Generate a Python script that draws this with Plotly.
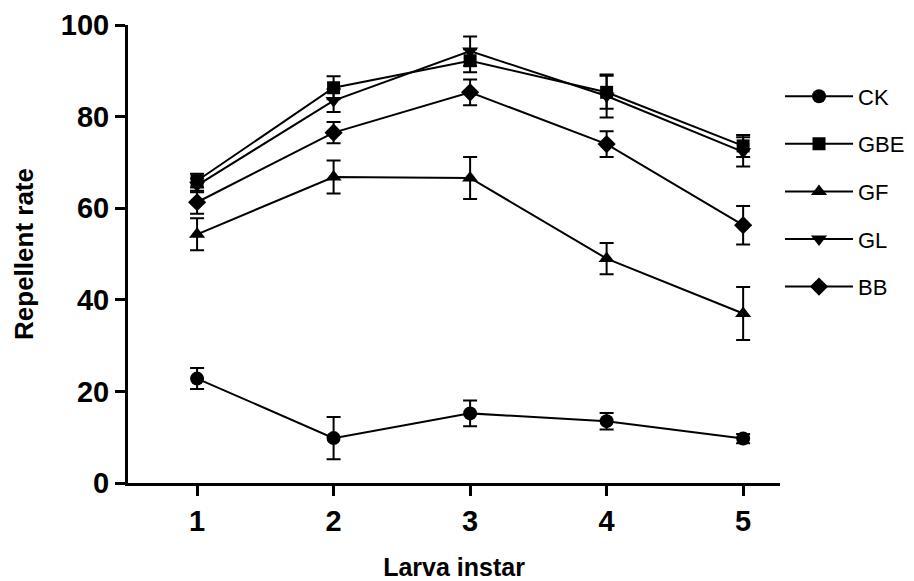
import plotly.graph_objects as go

instar = [1, 2, 3, 4, 5]
series_names = ["CK", "GBE", "GF", "GL", "BB"]
ck = [22.8, 9.8, 15.2, 13.5, 9.7]
ck_err = [2.3, 4.6, 2.8, 1.8, 1.0]
gbe = [66.0, 86.3, 92.2, 85.3, 73.6]
gbe_err = [1.5, 2.5, 2.5, 3.6, 2.4]
gf = [54.3, 66.8, 66.6, 49.0, 37.0]
gf_err = [3.5, 3.6, 4.6, 3.4, 5.8]
gl = [65.0, 83.5, 94.3, 84.5, 72.3]
gl_err = [1.5, 2.5, 3.2, 4.7, 3.2]
bb = [61.3, 76.5, 85.3, 74.0, 56.3]
bb_err = [2.5, 2.3, 2.8, 2.8, 4.2]

values = [ck, gbe, gf, gl, bb]
errors = [ck_err, gbe_err, gf_err, gl_err, bb_err]
symbols = ["circle", "square", "triangle-up", "triangle-down", "diamond"]
sizes = [14, 13, 14, 14, 14]

FONT = "Arial, Liberation Sans, sans-serif"

fig = go.Figure()
for name, v, e, s, sz in zip(series_names, values, errors, symbols, sizes):
    fig.add_trace(go.Scatter(
        x=instar, y=v, name=name, mode="lines+markers",
        legendgroup=name,
        line=dict(color="black", width=2),
        marker=dict(symbol=s, size=sz, color="black"),
        error_y=dict(type="data", array=e, visible=True, color="black",
                     thickness=2, width=7),
    ))

# page body has an 8px margin, so the figure is sized/offset to compensate
fig.update_layout(
    width=906, height=573,
    paper_bgcolor="white", plot_bgcolor="white",
    margin=dict(l=120, r=134, t=17, b=98, autoexpand=False),
    font=dict(family=FONT, color="black"),
    showlegend=True,
    legend=dict(x=1.0, y=0.89, xanchor="left", yanchor="top",
                font=dict(size=22, family=FONT, color="black"),
                tracegroupgap=16, itemwidth=68,
                bgcolor="rgba(0,0,0,0)"),
    xaxis=dict(range=[0.494, 5.27], tickvals=instar, ticktext=[str(i) for i in instar],
               automargin=False,
               showline=True, linecolor="black", linewidth=3,
               ticks="outside", ticklen=10, tickwidth=3, tickcolor="black",
               showgrid=False, zeroline=False,
               tickfont=dict(size=29, family=FONT, color="black", weight="bold"),
               title=dict(text="<b>Larva instar</b>", font=dict(size=25, family=FONT),
                          standoff=26)),
    yaxis=dict(range=[0, 100], tickvals=[0, 20, 40, 60, 80, 100],
               automargin=False,
               showline=True, linecolor="black", linewidth=3,
               ticks="outside", ticklen=10, tickwidth=3, tickcolor="black",
               showgrid=False, zeroline=False,
               tickfont=dict(size=29, family=FONT, color="black", weight="bold"),
               title=dict(text="<b>Repellent rate</b>", font=dict(size=26, family=FONT),
                          standoff=20)),
)

fig.write_html("out.html")
